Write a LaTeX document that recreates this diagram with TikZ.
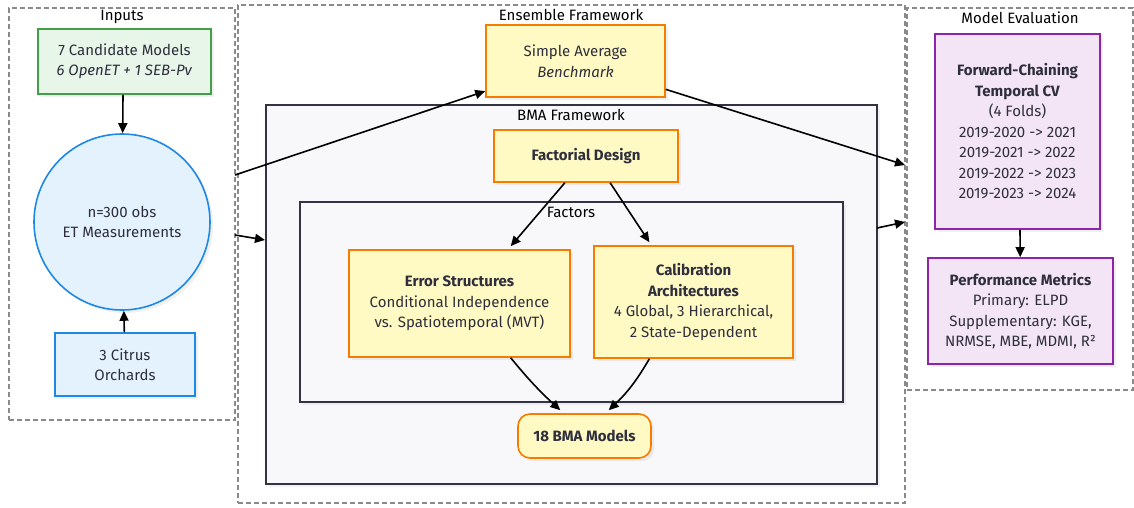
\documentclass[tikz,border=0pt]{standalone}
\usepackage{fontspec}
\setmainfont{Fira Sans}
\usetikzlibrary{arrows.meta,shadows,calc}
\definecolor{txt}{HTML}{2E2E3C}
\definecolor{gfill}{HTML}{E8F5E9}\definecolor{gline}{HTML}{43A047}
\definecolor{bfill}{HTML}{E3F2FD}\definecolor{bline}{HTML}{1E88E5}
\definecolor{yfill}{HTML}{FFF9C4}\definecolor{yline}{HTML}{F57C00}
\definecolor{pfill}{HTML}{F3E5F5}\definecolor{pline}{HTML}{8E24AA}
\definecolor{ffill}{HTML}{F8F8FB}\definecolor{fline}{HTML}{333344}
\definecolor{cline}{HTML}{8A8A8A}
\tikzset{
  base/.style={font=\fontsize{15}{20.5}\selectfont, text=txt, align=center, inner sep=0pt, line width=1.6pt,
    drop shadow={opacity=0.12, shadow xshift=3pt, shadow yshift=-3pt}},
  gbox/.style={base, rectangle, draw=gline, fill=gfill},
  bbox/.style={base, rectangle, draw=bline, fill=bfill},
  ybox/.style={base, rectangle, draw=yline, fill=yfill},
  pbox/.style={base, rectangle, draw=pline, fill=pfill},
  frame/.style={rectangle, draw=fline, fill=ffill, line width=1.6pt, inner sep=0pt,
    drop shadow={opacity=0.10, shadow xshift=3pt, shadow yshift=-3pt}},
  cluster/.style={rectangle, draw=cline, dash pattern=on 5pt off 3pt, line width=1.5pt, inner sep=0pt},
  ctitle/.style={font=\fontsize{15}{17}\selectfont, text=black, inner sep=0pt},
  arr/.style={line width=1.6pt, black, -{Triangle[length=10pt,width=9pt]}},
}
\begin{document}
\begin{tikzpicture}[x=1pt,y=-1pt]
\useasboundingbox (0,0) rectangle (1134,508);
% clusters
\node[cluster, minimum width=226pt, minimum height=412pt] (inputs) at (122,214) {};
\node[ctitle] (inputsT) at (122,17) {Inputs};
\node[cluster, minimum width=667pt, minimum height=498pt] (ens) at (571.5,254) {};
\node[ctitle] (ensT) at (571,15) {Ensemble Framework};
\node[cluster, minimum width=226pt, minimum height=382pt] (evalc) at (1020,199) {};
\node[ctitle] (evalT) at (1020,18) {Model Evaluation};
% frames
\node[frame, minimum width=611pt, minimum height=379pt] (bma) at (571.5,294.5) {};
\node[ctitle] (bmaT) at (571,115) {BMA Framework};
\node[frame, minimum width=543pt, minimum height=200pt] (fac) at (571.5,302) {};
\node[ctitle] (facT) at (571,212) {Factors};
% inputs
\node[gbox, minimum width=173pt, minimum height=65pt] (cand) at (124.5,61.5) {7 Candidate Models\\\textit{6 OpenET + 1 SEB-Pv}};
\node[bbox, circle, minimum size=176pt] (obs) at (122,222) {n=300 obs\\ET Measurements};
\node[bbox, minimum width=140pt, minimum height=63pt] (cit) at (125,364.5) {3 Citrus\\Orchards};
% ensemble
\node[ybox, minimum width=179pt, minimum height=72pt] (sa) at (575.5,61) {Simple Average\\\textit{Benchmark}};
\node[ybox, minimum width=184pt, minimum height=52pt] (fd) at (586,156) {\textbf{Factorial Design}};
\node[ybox, minimum width=221pt, minimum height=107pt] (err) at (459.5,303.5) {\textbf{Error Structures}\\Conditional Independence\\vs. Spatiotemporal (MVT)};
\node[ybox, minimum width=199pt, minimum height=112pt] (cal) at (693.5,302) {\textbf{Calibration}\\\textbf{Architectures}\\4 Global, 3 Hierarchical,\\2 State-Dependent};
\node[ybox, rounded corners=12pt, minimum width=133pt, minimum height=44pt] (m18) at (584.5,436) {\textbf{18 BMA Models}};
% evaluation
\node[pbox, minimum width=165pt, minimum height=195pt] (cv) at (1017.5,131.5) {\textbf{Forward-Chaining}\\\textbf{Temporal CV}\\(4 Folds)\\2019-2020 -> 2021\\2019-2021 -> 2022\\2019-2022 -> 2023\\2019-2023 -> 2024};
\node[pbox, minimum width=185pt, minimum height=106pt] (perf) at (1020.5,311) {\textbf{Performance Metrics}\\Primary: ELPD\\Supplementary: KGE,\\NRMSE, MBE, MDMI, R²};
% free ends at cluster borders
\coordinate (inE1) at (235,175);
\coordinate (inE2) at (235,235);
\coordinate (bmaW) at (265,240);
\coordinate (evW1) at (905,165);
\coordinate (bmaE) at (877,228);
\coordinate (evW2) at (905,222);
% connectors
\draw[arr] (cand.south -| 123,0) -- (obs);
\draw[arr] (cit) -- (obs);
\draw[arr] (inE1) -- (sa);
\draw[arr] (inE2) -- (bmaW);
\draw[arr] (sa) -- (evW1);
\draw[arr] (bmaE) -- (evW2);
\draw[arr] ($(fd.south west)!0.386!(fd.south east)$) -- ($(err.north west)!0.73!(err.north east)+(0,-3)$);
\draw[arr] ($(fd.south west)!0.63!(fd.south east)$) -- ($(cal.north west)!0.28!(cal.north east)+(0,-3)$);
\draw[arr] ($(err.south west)!0.73!(err.south east)$) to[bend right=4] ($(m18.north west)!0.32!(m18.north east)+(0,-3)$);
\draw[arr] ($(cal.south west)!0.28!(cal.south east)$) to[bend left=8] ($(m18.north west)!0.68!(m18.north east)+(0,-3)$);
\draw[arr] (cv.south -| 1020,0) -- (perf);
\end{tikzpicture}
\end{document}
